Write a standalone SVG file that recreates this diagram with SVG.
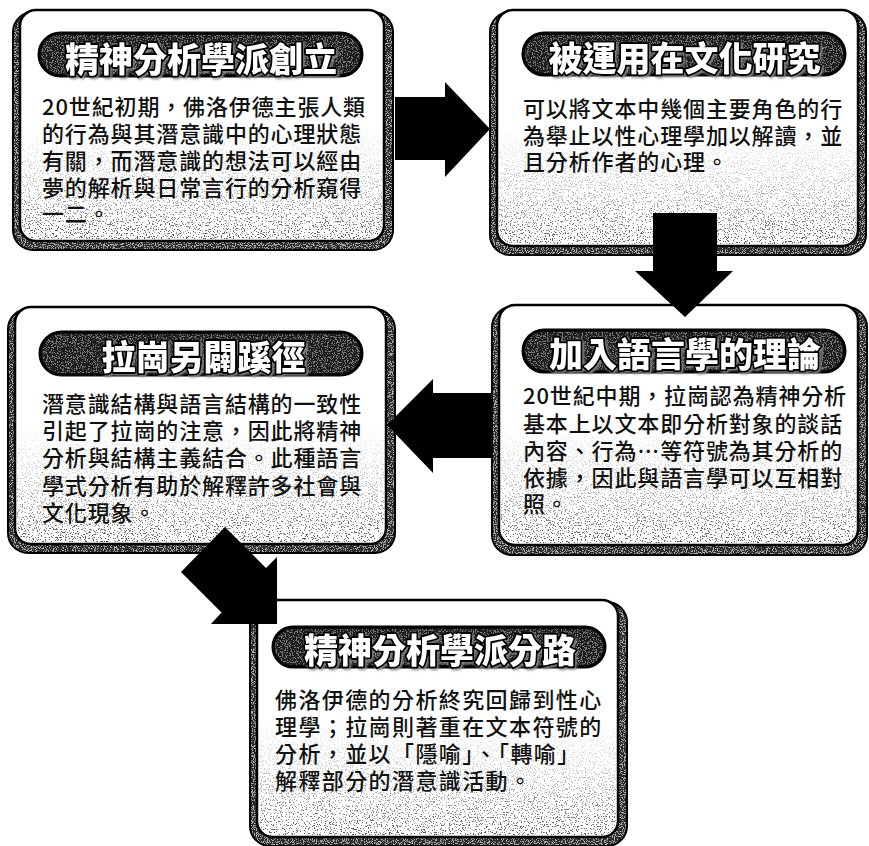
<svg xmlns="http://www.w3.org/2000/svg" width="869" height="846" viewBox="0 0 869 846">
<defs>
  <linearGradient id="fade" x1="0" y1="0" x2="0" y2="1">
    <stop offset="0" stop-color="#000" stop-opacity="0"/>
    <stop offset="0.5" stop-color="#000" stop-opacity="0"/>
    <stop offset="0.78" stop-color="#000" stop-opacity="0.3"/>
    <stop offset="1" stop-color="#000" stop-opacity="0.65"/>
  </linearGradient>
  <filter id="speck" x="0" y="0" width="1" height="1">
    <feTurbulence type="fractalNoise" baseFrequency="0.75" numOctaves="2" seed="7" result="n"/>
    <feColorMatrix in="n" type="matrix" values="0 0 0 0 0  0 0 0 0 0  0 0 0 0 0  -16 0 0 0 6.6" result="d"/>
    <feComposite in="d" in2="SourceGraphic" operator="in"/>
  </filter>
  <filter id="wspeck" x="0" y="0" width="1" height="1">
    <feTurbulence type="fractalNoise" baseFrequency="0.8" numOctaves="2" seed="3" result="n"/>
    <feColorMatrix in="n" type="matrix" values="0 0 0 0 1  0 0 0 0 1  0 0 0 0 1  -14 0 0 0 6.6" result="d"/>
    <feComposite in="d" in2="SourceGraphic" operator="in"/>
  </filter>
  <filter id="bandsp" x="0" y="0" width="1" height="1">
    <feTurbulence type="fractalNoise" baseFrequency="0.9" numOctaves="2" seed="11" result="n"/>
    <feColorMatrix in="n" type="matrix" values="0 0 0 0 1  0 0 0 0 1  0 0 0 0 1  -14 0 0 0 6.8" result="d"/>
    <feComposite in="d" in2="SourceGraphic" operator="in"/>
  </filter>
  <filter id="tsh" x="-5%" y="-20%" width="110%" height="140%">
    <feDropShadow dx="1.5" dy="1.5" stdDeviation="0.8" flood-color="#8a8a8a"/>
  </filter>
</defs>
<style>
  .band { fill: #2a2a2a; stroke: #000; stroke-width: 2; }
  .bandw { fill: #fff; fill-opacity: 0.6; }
  .main { fill: #fff; stroke: #000; stroke-width: 2.5; }
  .sp { fill: url(#fade); }
  .ban { fill: #1c1c1c; stroke: #000; stroke-width: 3; }
  .bsp { fill: #fff; fill-opacity: 0.4; }
  .title { font-family: "Noto Sans CJK TC", "Noto Sans CJK SC", sans-serif; font-weight: 900; font-size: 34px; fill: #fff; stroke: #000; stroke-width: 4; stroke-linejoin: round; paint-order: stroke; text-anchor: middle; }
  .body { font-family: "Noto Sans CJK TC", "Noto Sans CJK SC", sans-serif; font-weight: 500; font-size: 22px; fill: #111; letter-spacing: 0.86px; }
  .b5 { letter-spacing: 1.4px; }
  .arrow { fill: #000; }
</style>
<rect width="869" height="846" fill="#fff"/>

<g id="node-founding">
  <rect class="band" x="13" y="12" width="380" height="238" rx="20"/>
  <rect class="bandw" x="14" y="13" width="378" height="236" rx="19" filter="url(#bandsp)"/>
  <rect class="main" x="20" y="10" width="364" height="231" rx="16"/>
  <rect class="sp" x="22" y="12" width="360" height="227" rx="15" filter="url(#speck)"/>
  <rect class="ban" x="39" y="33" width="323" height="43" rx="21.5"/>
  <rect class="bsp" x="41" y="35" width="319" height="39" rx="19.5" filter="url(#wspeck)"/>
  <text class="title" x="201" y="71.5" filter="url(#tsh)">精神分析學派創立</text>
  <text class="body"><tspan x="42" y="115">20世紀初期，佛洛伊德主張人類</tspan><tspan x="42" y="142">的行為與其潛意識中的心理狀態</tspan><tspan x="42" y="168.5">有關，而潛意識的想法可以經由</tspan><tspan x="42" y="195.5">夢的解析與日常言行的分析窺得</tspan><tspan x="42" y="222">一二。</tspan></text>
</g>

<g id="node-culture">
  <rect class="band" x="490" y="12" width="376" height="243" rx="20"/>
  <rect class="bandw" x="491" y="13" width="374" height="241" rx="19" filter="url(#bandsp)"/>
  <rect class="main" x="497" y="10" width="361" height="236" rx="16"/>
  <rect class="sp" x="499" y="12" width="357" height="232" rx="15" filter="url(#speck)"/>
  <rect class="ban" x="523" y="33" width="322" height="42" rx="21"/>
  <rect class="bsp" x="525" y="35" width="318" height="38" rx="19" filter="url(#wspeck)"/>
  <text class="title" x="684.5" y="70.5" filter="url(#tsh)">被運用在文化研究</text>
  <text class="body"><tspan x="523" y="116.5">可以將文本中幾個主要角色的行</tspan><tspan x="523" y="143.5">為舉止以性心理學加以解讀，並</tspan><tspan x="523" y="169.5">且分析作者的心理。</tspan></text>
</g>

<g id="node-lacan">
  <rect class="band" x="8" y="309" width="387" height="244" rx="20"/>
  <rect class="bandw" x="9" y="310" width="385" height="242" rx="19" filter="url(#bandsp)"/>
  <rect class="main" x="15" y="307" width="371" height="237" rx="16"/>
  <rect class="sp" x="17" y="309" width="367" height="233" rx="15" filter="url(#speck)"/>
  <rect class="ban" x="40" y="332" width="322" height="43" rx="21.5"/>
  <rect class="bsp" x="42" y="334" width="318" height="39" rx="19.5" filter="url(#wspeck)"/>
  <text class="title" x="203.5" y="370" filter="url(#tsh)">拉崗另闢蹊徑</text>
  <text class="body"><tspan x="42" y="411.5">潛意識結構與語言結構的一致性</tspan><tspan x="42" y="438.5">引起了拉崗的注意，因此將精神</tspan><tspan x="42" y="466">分析與結構主義結合。此種語言</tspan><tspan x="42" y="494">學式分析有助於解釋許多社會與</tspan><tspan x="42" y="521">文化現象。</tspan></text>
</g>

<g id="node-linguistics">
  <rect class="band" x="492" y="307" width="375" height="248" rx="20"/>
  <rect class="bandw" x="493" y="308" width="373" height="246" rx="19" filter="url(#bandsp)"/>
  <rect class="main" x="499" y="305" width="359" height="240" rx="16"/>
  <rect class="sp" x="501" y="307" width="355" height="236" rx="15" filter="url(#speck)"/>
  <rect class="ban" x="523" y="330" width="322" height="42" rx="21"/>
  <rect class="bsp" x="525" y="332" width="318" height="38" rx="19" filter="url(#wspeck)"/>
  <text class="title" x="685" y="366.5" filter="url(#tsh)">加入語言學的理論</text>
  <text class="body"><tspan x="523" y="404">20世紀中期，拉崗認為精神分析</tspan><tspan x="523" y="431.5">基本上以文本即分析對象的談話</tspan><tspan x="523" y="459">內容、行為…等符號為其分析的</tspan><tspan x="523" y="486">依據，因此與語言學可以互相對</tspan><tspan x="523" y="512">照。</tspan></text>
</g>

<g id="node-divergence">
  <rect class="band" x="250" y="602" width="377" height="244" rx="20"/>
  <rect class="bandw" x="251" y="603" width="375" height="242" rx="19" filter="url(#bandsp)"/>
  <rect class="main" x="257" y="600" width="361" height="237" rx="16"/>
  <rect class="sp" x="259" y="602" width="357" height="233" rx="15" filter="url(#speck)"/>
  <rect class="ban" x="273" y="627" width="332" height="40" rx="20"/>
  <rect class="bsp" x="275" y="629" width="328" height="36" rx="18" filter="url(#wspeck)"/>
  <text class="title" x="440" y="663" filter="url(#tsh)">精神分析學派分路</text>
  <text class="body b5"><tspan x="275" y="708">佛洛伊德的分析終究回歸到性心</tspan><tspan x="275" y="735">理學；拉崗則著重在文本符號的</tspan><tspan x="275" y="762">分析，並以「隱喻」、「轉喻」</tspan><tspan x="275" y="789">解釋部分的潛意識活動。</tspan></text>
</g>

<g id="connectors">
  <polygon class="arrow" points="395,97 445,97 445,82 490,129 445,177 445,160 395,160"/>
  <polygon class="arrow" points="653,213 717,213 717,271 733,271 685,317 635,271 653,271"/>
  <polygon class="arrow" points="492,393 433,393 433,379 387,425 433,473 433,458 492,458"/>
  <polygon class="arrow" points="225,527 266,568 277,557 277,624 211,624 221.5,612.5 181,572"/>
</g>
</svg>
